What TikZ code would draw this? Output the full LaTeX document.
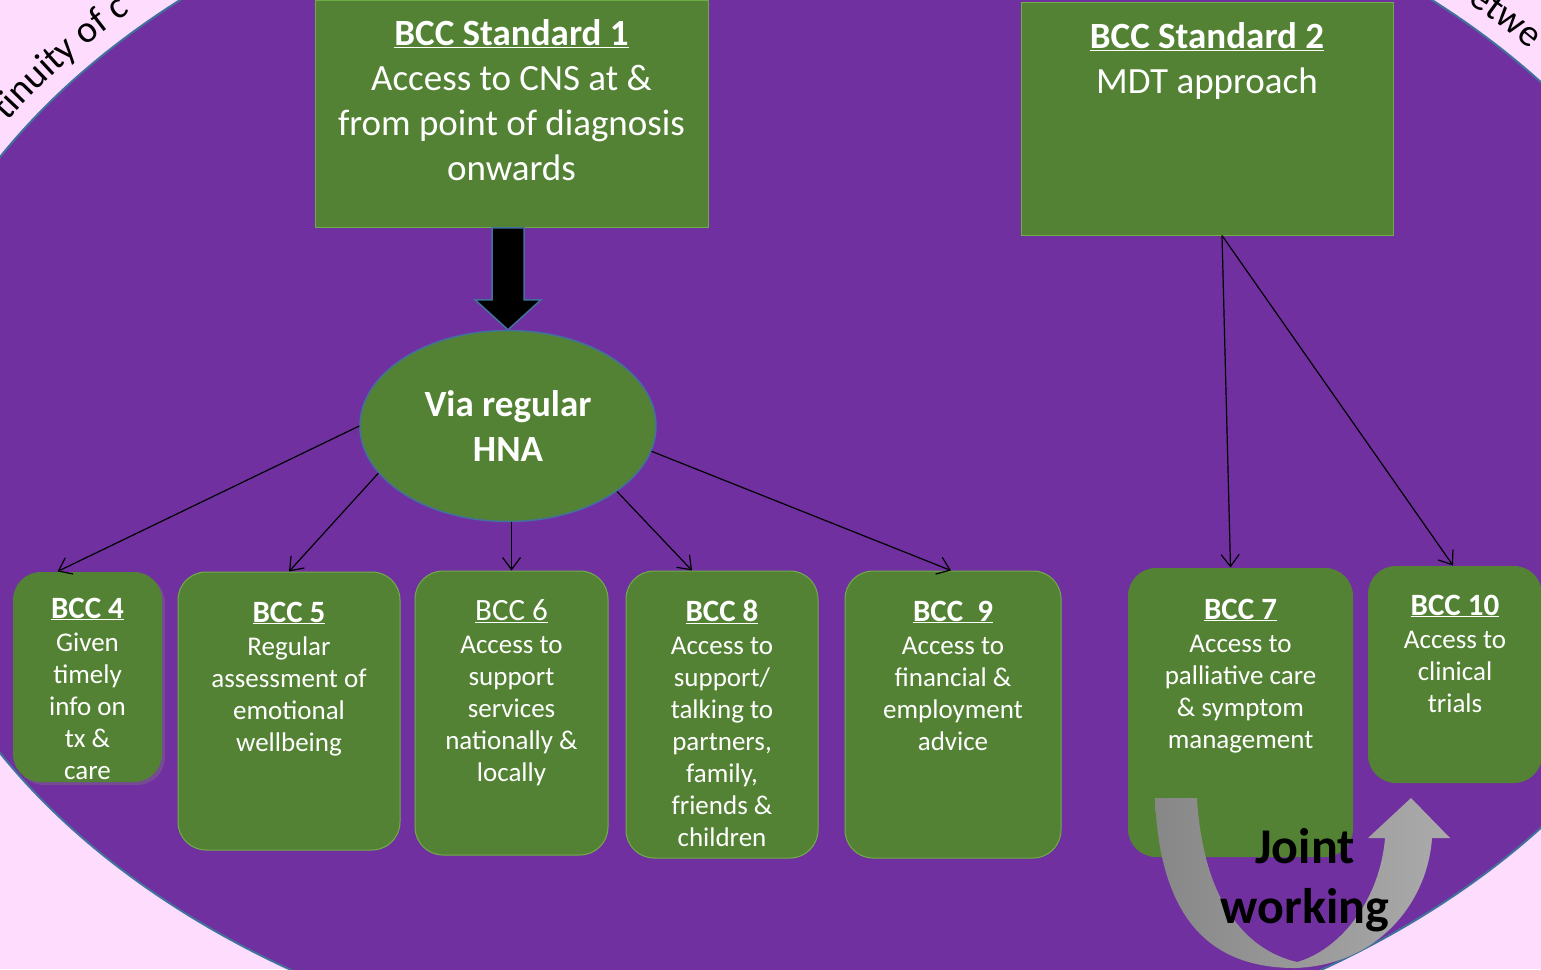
\documentclass[tikz,border=0pt]{standalone}
\usepackage{fontspec}
\setmainfont{Carlito}
\usetikzlibrary{positioning,arrows.meta,shapes.geometric,shadows,decorations.text}

\definecolor{pagepink}{HTML}{FDDCFD}
\definecolor{bccpurple}{HTML}{7030A0}
\definecolor{bccgreen}{HTML}{548235}
\definecolor{bccedge}{HTML}{70AD47}
\definecolor{ringblue}{HTML}{41719C}

\newcommand{\stdtitle}[1]{\textbf{\underline{#1}}}
\newcommand{\bcctitle}[1]{{\fontsize{31}{32}\selectfont\bfseries\underline{#1}}}
\newcommand{\bcctitlelight}[1]{{\fontsize{31}{32}\selectfont\underline{#1}}}

\tikzset{
  stdbox/.style={rectangle, fill=bccgreen, draw=bccedge, line width=1pt, inner sep=0pt},
  bccbox/.style={rectangle, rounded corners=28pt, fill=bccgreen, draw=bccedge, line width=1pt, inner sep=0pt},
  stdtext/.style={text=white, align=center, inner sep=0pt, font=\fontsize{37}{45}\selectfont},
  boxtext/.style={text=white, align=center, inner sep=0pt, font=\fontsize{27}{32}\selectfont},
  link/.style={-{Straight Barb[length=12pt,width=18pt]}, line width=1.2pt, black},
  ringtext/.style={decorate, decoration={text along path, text align=left}}
}

\begin{document}
\begin{tikzpicture}[x=1pt,y=1pt]
  % page and purple ring
  \fill[pagepink] (0,0) rectangle (1541,-969);
  \useasboundingbox (0,0) rectangle (1541,-969);
  \draw[fill=bccpurple, draw=ringblue, line width=2pt] (806,-455) ellipse [x radius=918, y radius=622];
  \path[ringtext, decoration={text={|\fontsize{38}{46}\selectfont|tinuity of c}}]
    (806,-455) ++(148.6:936pt and 640pt) arc[start angle=148.6, end angle=95, x radius=936pt, y radius=640pt];
  \path[ringtext, decoration={text={|\fontsize{38}{46}\selectfont|etwe}}]
    (806,-455) ++(45:936pt and 640pt) arc[start angle=45, end angle=15, x radius=936pt, y radius=640pt];

  % standards
  \node[stdbox, minimum width=393, minimum height=227] (std1) at (511.5,-113.5) {};
  \node[stdtext, below=20pt of std1.north] (std1txt) {\stdtitle{BCC Standard 1}\\Access to CNS at \&\\from point of diagnosis\\onwards};
  \node[stdbox, minimum width=372, minimum height=233] (std2) at (1207,-118.5) {};
  \node[stdtext, below=21pt of std2.north] (std2txt) {\stdtitle{BCC Standard 2}\\MDT approach};

  % HNA
  \node[ellipse, fill=bccgreen, draw=ringblue, line width=1.5pt, minimum width=296, minimum height=191,
        text=white, align=center, font=\fontsize{37}{45}\selectfont\bfseries] (hna) at (508,-426) {Via regular\\HNA};
  \draw[fill=black, draw=ringblue, line width=1.5pt] (hna.north) -- ++(-33,30) -- ++(17,0) -- ++(0,72)
    -- ++(32,0) -- ++(0,-72) -- ++(17,0) -- cycle;

  % BCC boxes
  \node[bccbox, draw=none, drop shadow={shadow xshift=3pt, shadow yshift=-3pt, opacity=0.35}, minimum width=149, minimum height=210] (bcc4) at (87.5,-677) {};
  \node[boxtext, below=26pt of bcc4.north] (bcc4txt) {\bcctitle{BCC 4}\\[1pt]Given\\timely\\info on\\tx \&\\care};
  \node[bccbox, minimum width=222, minimum height=278] (bcc5) at (289,-711) {};
  \node[boxtext, below=30pt of bcc5.north] (bcc5txt) {\bcctitle{BCC 5}\\[1pt]Regular\\assessment of\\emotional\\wellbeing};
  \node[bccbox, minimum width=193, minimum height=284] (bcc6) at (511.5,-713) {};
  \node[boxtext, below=29pt of bcc6.north] (bcc6txt) {\bcctitlelight{BCC 6}\\[1pt]Access to\\support\\services\\nationally \&\\locally};
  \node[bccbox, minimum width=192, minimum height=287] (bcc8) at (722,-714.5) {};
  \node[boxtext, below=29pt of bcc8.north] (bcc8txt) {\bcctitle{BCC 8}\\[1pt]Access to\\support/\\talking to\\partners,\\family,\\friends \&\\children};
  \node[bccbox, minimum width=216, minimum height=287] (bcc9) at (953,-714.5) {};
  \node[boxtext, below=30pt of bcc9.north] (bcc9txt) {\bcctitle{BCC\ \ 9}\\[1pt]Access to\\financial \&\\employment\\advice};
  \node[bccbox, draw=none, minimum width=225, minimum height=289] (bcc7) at (1240.5,-712.5) {};
  \node[boxtext, below=31pt of bcc7.north] (bcc7txt) {\bcctitle{BCC 7}\\[1pt]Access to\\palliative care\\\& symptom\\management};
  \node[bccbox, draw=none, minimum width=174, minimum height=217] (bcc10) at (1455,-674.5) {};
  \node[boxtext, below=29pt of bcc10.north] (bcc10txt) {\bcctitle{BCC 10}\\[1pt]Access to\\clinical\\trials};

  % links
  \draw[link] (hna.west) -- ([xshift=-30pt]bcc4.north);
  \draw[link] (hna.200) -- (bcc5.north);
  \draw[link] (bcc6.north |- hna.south) -- (bcc6.north);
  \draw[link] (hna.-31) -- ([xshift=-30pt]bcc8.north);
  \draw[link] (hna.-10) -- ([xshift=-2pt]bcc9.north);
  \draw[link] ([xshift=15pt]std2.south) -- ([xshift=-10pt]bcc7.north);
  \draw[link] ([xshift=15pt]std2.south) -- ([xshift=-2pt]bcc10.north);

  % joint working U-turn arrow
  \shade[left color=black!47, right color=black!33]
    (1155,-798) .. controls (1160,-930) and (1220,-968) .. (1295,-968)
    .. controls (1380,-965) and (1428,-900) .. (1432,-838) -- (1450,-838) -- (1411,-798)
    -- (1368,-838) -- (1385,-838) .. controls (1380,-900) and (1340,-950) .. (1297,-962)
    .. controls (1245,-950) and (1203,-900) .. (1197,-798) -- cycle;
  \node[align=center, font=\fontsize{50}{60}\selectfont\bfseries] (joint) at (1305,-880) {Joint\\working};
\end{tikzpicture}
\end{document}
